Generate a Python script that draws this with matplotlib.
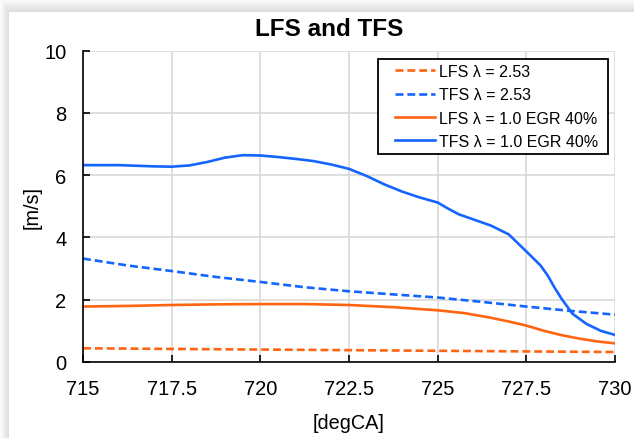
import numpy as np
import matplotlib
matplotlib.use("Agg")
import matplotlib.pyplot as plt
from matplotlib.patches import Rectangle

plt.rcParams['font.family'] = ['Liberation Sans', 'DejaVu Sans']

# crank angle samples and flame speeds [m/s]
x_lfs_253 = [715, 717.5, 720, 722.5, 725, 727.5, 730]
lfs_253 = [0.44, 0.42, 0.40, 0.38, 0.36, 0.34, 0.32]

x_tfs_253 = [715, 716.25, 717.5, 718.75, 720, 721.25, 722.5, 723.75, 725,
             726.25, 727.5, 728.75, 730]
tfs_253 = [3.32, 3.10, 2.92, 2.73, 2.57, 2.40, 2.27, 2.17, 2.07,
           1.93, 1.78, 1.64, 1.52]

x_lfs_egr = [715, 716.25, 717.5, 718.75, 720, 721.25, 722.5, 723.75, 725,
             725.75, 726.5, 727, 727.5, 728, 728.5, 729, 729.5, 730]
lfs_egr = [1.78, 1.80, 1.83, 1.85, 1.86, 1.86, 1.83, 1.76, 1.66,
           1.57, 1.42, 1.30, 1.17, 1.00, 0.86, 0.75, 0.66, 0.60]

x_tfs_egr = [715, 716, 717, 717.5, 718, 718.5, 719, 719.5, 720, 720.5, 721,
             721.5, 722, 722.5, 723, 723.5, 724, 724.5, 725, 725.3, 725.6,
             726, 726.5, 727, 727.5, 727.9, 728.1, 728.3, 728.5, 728.8,
             729.2, 729.6, 730]
tfs_egr = [6.32, 6.32, 6.28, 6.27, 6.31, 6.42, 6.56, 6.64, 6.63, 6.58, 6.52,
           6.45, 6.34, 6.20, 5.97, 5.70, 5.47, 5.28, 5.12, 4.92, 4.74,
           4.58, 4.38, 4.10, 3.55, 3.10, 2.78, 2.38, 2.02, 1.55,
           1.22, 1.00, 0.87]

labels = ["LFS λ = 2.53", "TFS λ = 2.53",
          "LFS λ = 1.0 EGR 40%", "TFS λ = 1.0 EGR 40%"]
xticks = [715, 717.5, 720, 722.5, 725, 727.5, 730]
xtick_labels = ["715", "717.5", "720", "722.5", "725", "727.5", "730"]

orange = '#ff6410'
blue = '#1464ff'

W, H = 634, 439
fig = plt.figure(figsize=(W / 100, H / 100), dpi=100)

# soft panel shadow behind the chart
bg = fig.add_axes([0, 0, 1, 1], zorder=-10)
yy, xx = np.mgrid[0:H, 0:W]
dist = np.maximum((9 - xx) / 9.0, (13 - yy) / 13.0)
shade = np.where(dist > 0, 0.86 + 0.13 * dist, 1.0)
shade = np.clip(shade, 0, 1)
bg.imshow(np.dstack([shade] * 3), aspect='auto', interpolation='bilinear')
bg.axis('off')

ax = fig.add_axes([83 / W, 1 - 363 / H, (615 - 83) / W, (363 - 51.5) / H])
ax.set_facecolor('none')

dash = (0, (3, 1.5))
lw = 1.9
ax.plot(x_lfs_253, lfs_253, color=orange, lw=lw, ls=dash, label=labels[0])
ax.plot(x_tfs_253, tfs_253, color=blue, lw=lw, ls=dash, label=labels[1])
ax.plot(x_lfs_egr, lfs_egr, color=orange, lw=lw, label=labels[2])
ax.plot(x_tfs_egr, tfs_egr, color=blue, lw=lw, label=labels[3])

ax.set_xlim(715, 730)
ax.set_ylim(0, 10)
ax.set_xticks(xticks)
ax.set_xticklabels(xtick_labels)
ax.set_yticks([0, 2, 4, 6, 8, 10])
ax.grid(True, color='#d9d9d9', lw=1.2)
ax.set_axisbelow(True)
for s in ['top', 'right']:
    ax.spines[s].set_visible(False)
for s in ['left', 'bottom']:
    ax.spines[s].set_linewidth(1.2)
ax.tick_params(direction='in', length=5, width=1.2, labelsize=14.5, pad=12)
ax.tick_params(axis='y', pad=12)

ax.set_xlabel('[degCA]', fontsize=14.3, labelpad=11)
ax.set_ylabel('[m/s]', fontsize=14.3, labelpad=2)
fig.text(0.52, 1 - 29 / H, 'LFS and TFS', fontsize=17.5, fontweight='bold',
         ha='center', va='center')

# legend box drawn separately so the left margin can be wider
ax.add_patch(Rectangle((378 / W, 1 - 155 / H), (608 - 378) / W, 95 / H,
                       transform=fig.transFigure, facecolor='white',
                       edgecolor='black', lw=1.3, zorder=4, clip_on=False))
leg = ax.legend(loc='upper left', bbox_to_anchor=(395 / W, 1 - 65 / H),
                bbox_transform=fig.transFigure, borderaxespad=0,
                fontsize=11.5, handlelength=2.5, handletextpad=0.25,
                labelspacing=0.52, frameon=False, borderpad=0)
leg.set_zorder(5)

fig.savefig('out.png', dpi=100)
